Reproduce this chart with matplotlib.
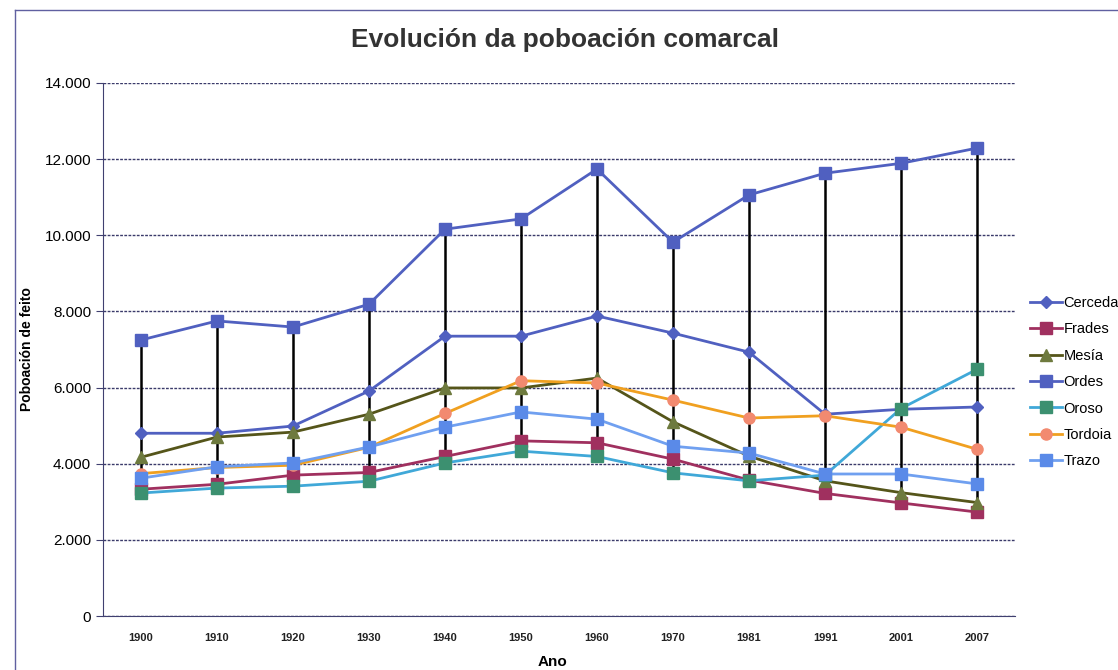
import numpy as np
import matplotlib.pyplot as plt
from matplotlib.ticker import FuncFormatter

plt.rcParams['font.family'] = ['Liberation Sans', 'DejaVu Sans']

years = ['1900', '1910', '1920', '1930', '1940', '1950', '1960', '1970', '1981', '1991', '2001', '2007']

# population by municipality
cerceda = [4800, 4800, 4990, 5910, 7350, 7350, 7880, 7430, 6930, 5300, 5430, 5490]
frades = [3330, 3460, 3700, 3770, 4190, 4600, 4550, 4120, 3570, 3220, 2970, 2730]
mesia = [4170, 4700, 4830, 5300, 5990, 5990, 6250, 5100, 4200, 3550, 3240, 2980]
ordes = [7250, 7750, 7590, 8190, 10160, 10430, 11740, 9820, 11060, 11630, 11890, 12290]
oroso = [3230, 3360, 3410, 3540, 4020, 4330, 4190, 3760, 3550, 3700, 5450, 6480]
tordoia = [3740, 3900, 3960, 4430, 5320, 6180, 6120, 5670, 5200, 5260, 4960, 4380]
trazo = [3620, 3920, 4020, 4440, 4960, 5360, 5170, 4460, 4280, 3730, 3730, 3470]

series = [
    ('Cerceda', cerceda, '#5060C0', '#5060C0', 'D', 6),
    ('Frades', frades, '#A0305F', '#A0305F', 's', 8),
    ('Mesía', mesia, '#55551A', '#6E7A3E', '^', 8),
    ('Ordes', ordes, '#5060C0', '#5060C0', 's', 9),
    ('Oroso', oroso, '#40A8D8', '#3C9070', 's', 8),
    ('Tordoia', tordoia, '#F0A020', '#F28A70', 'o', 8),
    ('Trazo', trazo, '#70A0F0', '#5A8AE8', 's', 8),
]

fig = plt.figure(figsize=(11.18, 6.70), dpi=100)
ax = fig.add_axes([103 / 1118, 1 - 616 / 670, 912 / 1118, 533 / 670])

x = np.arange(len(years))
allvals = np.array([s[1] for s in series])
ax.vlines(x, allvals.min(axis=0), allvals.max(axis=0), color='black', lw=1.8, zorder=2)

for name, vals, lc, mc, mk, ms in series:
    ax.plot(x, vals, color=lc, lw=2, marker=mk, markersize=ms,
            markerfacecolor=mc, markeredgecolor=mc, label=name, zorder=3)

ax.set_xlim(-0.5, len(years) - 0.5)
ax.set_ylim(0, 14000)
ax.set_yticks(np.arange(0, 14001, 2000))
ax.yaxis.set_major_formatter(FuncFormatter(lambda v, p: f'{int(v):,}'.replace(',', '.')))
ax.set_xticks(x)
ax.set_xticklabels(years, fontsize=8, fontweight='bold', color='#222222')
ax.tick_params(axis='y', labelsize=11, length=5, color='#404070')
ax.tick_params(axis='x', length=0, pad=12)
ax.grid(axis='y', color='#3A3A6A', lw=1, ls=(0, (2, 1)))
ax.set_axisbelow(True)
for side in ['top', 'right']:
    ax.spines[side].set_visible(False)
ax.spines['left'].set_color('#404070')
ax.spines['bottom'].set_color('#404070')

ax.set_ylabel('Poboación de feito', fontsize=10, fontweight='bold')
ax.yaxis.set_label_coords((34 - 103) / 912, 0.5)
ax.set_xlabel('Ano', fontsize=11, fontweight='bold', va='center')
ax.xaxis.set_label_coords((552 - 103) / 912, (616 - 662) / 533)
fig.text(565 / 1118, 1 - 40 / 670, 'Evolución da poboación comarcal',
         ha='center', va='center', fontsize=19, fontweight='bold', color='#333333')

# chart border
fig.add_artist(plt.Line2D([15 / 1118, 15 / 1118], [0, 1 - 10 / 670], color='#6060A0', lw=1))
fig.add_artist(plt.Line2D([15 / 1118, 1], [1 - 10 / 670, 1 - 10 / 670], color='#6060A0', lw=1))

fig.legend(loc='upper left', bbox_to_anchor=(1030 / 1118, 1 - 296 / 670), frameon=False,
           fontsize=10.5, handlelength=2.2, handletextpad=0.1, labelspacing=0.85,
           borderaxespad=0, borderpad=0)

fig.savefig('out.png', dpi=100)
